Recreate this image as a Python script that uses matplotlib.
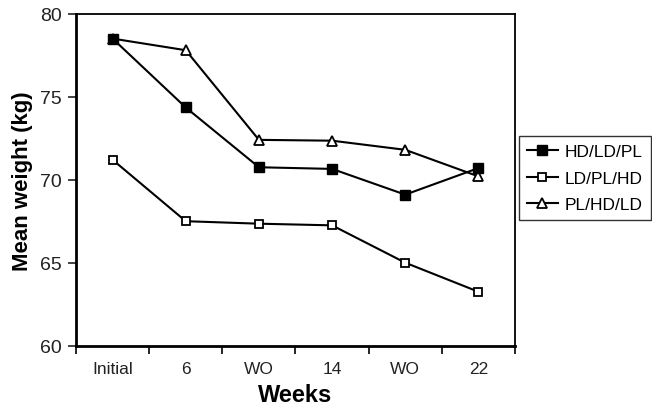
import matplotlib.pyplot as plt

plt.rcParams['font.family'] = ['Liberation Sans', 'DejaVu Sans']

weeks = ["Initial", "6", "WO", "14", "WO", "22"]
hd_ld_pl = [78.5, 74.35, 70.75, 70.65, 69.1, 70.7]
ld_pl_hd = [71.2, 67.5, 67.35, 67.25, 65.0, 63.25]
pl_hd_ld = [78.5, 77.8, 72.4, 72.35, 71.8, 70.2]

x = list(range(len(weeks)))

fig = plt.figure(figsize=(6.52, 4.14), dpi=100)
ax = fig.add_axes([76 / 652, 1 - 346.7 / 414, (515 - 76) / 652, (346.7 - 14.7) / 414])

ax.plot(x, hd_ld_pl, color='black', lw=1.5, marker='s', ms=7,
        mfc='black', mec='black', label='HD/LD/PL', zorder=3)
ax.plot(x, ld_pl_hd, color='black', lw=1.5, marker='s', ms=6,
        mfc='white', mec='black', mew=1.3, label='LD/PL/HD', zorder=2)
ax.plot(x, pl_hd_ld, color='black', lw=1.5, marker='^', ms=7,
        mfc='white', mec='black', mew=1.3, label='PL/HD/LD', zorder=1)

ax.set_xlim(-0.5, len(weeks) - 0.5)
ax.set_ylim(60, 80)
ax.set_yticks([60, 65, 70, 75, 80])
ax.set_xticks(x)
ax.set_xticklabels(weeks)
ax.set_xticks([i - 0.5 for i in range(len(weeks) + 1)], minor=True)
ax.tick_params(axis='x', which='major', length=0, pad=11, labelsize=12.5, colors='#222222')
ax.tick_params(axis='x', which='minor', length=6, width=1.2, direction='out')
ax.tick_params(axis='y', length=6, width=1.2, direction='out', labelsize=14, pad=4,
               colors='#222222')

for side in ['left', 'bottom']:
    ax.spines[side].set_linewidth(2)
for side in ['top', 'right']:
    ax.spines[side].set_linewidth(1.3)

ax.set_xlabel("Weeks", fontsize=17, fontweight='bold', labelpad=5)
ax.set_ylabel("Mean weight (kg)", fontsize=16, fontweight='bold', labelpad=5)

fig.legend(loc='center left', bbox_to_anchor=(519 / 652, 1 - 179 / 414),
           frameon=True, fancybox=False, edgecolor='black', fontsize=12.5,
           handlelength=1.8, handletextpad=0.4, borderpad=0.45,
           labelspacing=0.65, borderaxespad=0)

fig.savefig("out.png", dpi=100)
